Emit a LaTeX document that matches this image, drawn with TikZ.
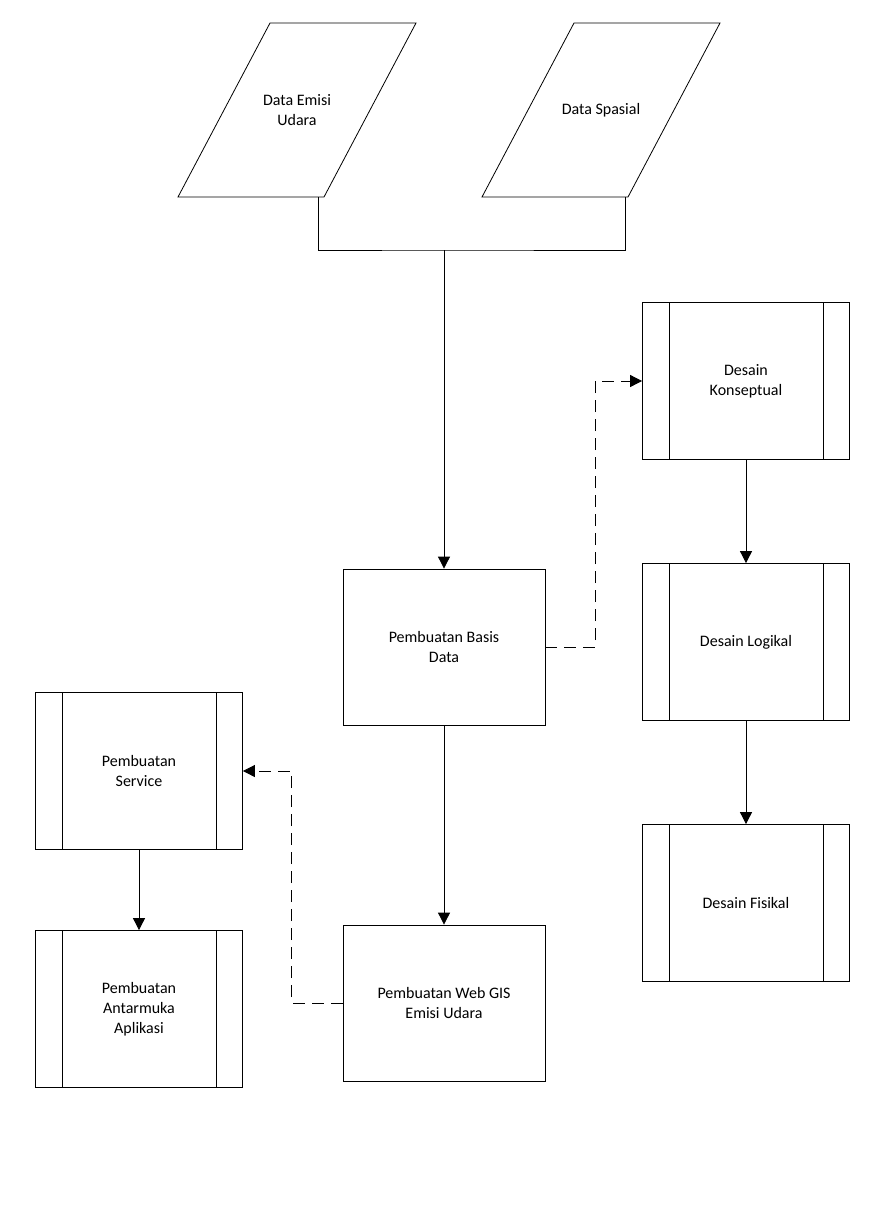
\documentclass[tikz,border=0pt]{standalone}
\usepackage{fontspec}
\setmainfont{Carlito}
\usetikzlibrary{arrows.meta,positioning,calc}
\tikzset{
  box/.style={draw, minimum width=202pt, minimum height=156pt, align=center, font=\fontsize{16}{20}\selectfont},
  subproc/.style={box, minimum width=207pt, minimum height=157pt, append after command={
      \pgfextra{\draw ($(\tikzlastnode.north west)+(27pt,0)$) -- ($(\tikzlastnode.south west)+(27pt,0)$);
                \draw ($(\tikzlastnode.north east)+(-27pt,0)$) -- ($(\tikzlastnode.south east)+(-27pt,0)$);}}},
  data/.style={align=center, font=\fontsize{16}{20}\selectfont},
  flow/.style={-{Triangle[length=12pt,width=12pt]}},
  dflow/.style={flow, dashed, dash pattern=on 12pt off 7pt},
}
\newcommand\dataslant[1]{\draw ($(#1)+(-119,87)$) -- ($(#1)+(27,87)$) -- ($(#1)+(119,-87)$) -- ($(#1)+(-27,-87)$) -- cycle;}
\begin{document}
\begin{tikzpicture}[x=1pt,y=-1pt, line width=0.8pt]
\useasboundingbox (0,0) rectangle (891,1205);
% inputs
\node[data] (emisi) at (297,110) {Data Emisi\\Udara};
\node[data] (spasial) at (601,110) {Data Spasial};
\dataslant{297,110}
\dataslant{601,110}
% main
\node[box] (basis) at (444,647) {Pembuatan Basis\\Data};
\node[box] (web) at (444,1003) {Pembuatan Web GIS\\Emisi Udara};
% database design
\node[subproc] (konsep) at (746,381) {Desain\\Konseptual};
\node[subproc] (logikal) at (746,642) {Desain Logikal};
\node[subproc] (fisikal) at (746,903) {Desain Fisikal};
% application
\node[subproc] (service) at (139,771) {Pembuatan\\Service};
\node[subproc] (antarmuka) at (139,1009) {Pembuatan\\Antarmuka\\Aplikasi};
\coordinate (join) at (444,250);
\draw (318,197) |- (join) -| (625,197);
\draw[flow] (join) -- (basis);
\draw[flow] (basis) -- (web);
\draw[flow] (konsep) -- (logikal);
\draw[flow] (logikal) -- (fisikal);
\draw[flow] (service) -- (antarmuka);
\draw[dflow] (basis.east) -- ++(50,0) |- (konsep.west);
\draw[dflow] (web.west) -- ++(-51,0) |- (service.east);
\end{tikzpicture}
\end{document}
